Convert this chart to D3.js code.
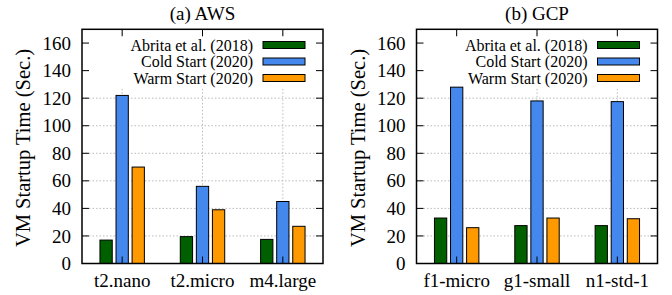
<!DOCTYPE html>
<html><head><meta charset="utf-8">
<script src="https://cdn.jsdelivr.net/npm/d3@7/dist/d3.min.js"></script>
<style>body{margin:0;background:#fff}svg{display:block}svg text{font-family:"Liberation Serif","Times New Roman","DejaVu Serif",serif}</style>
</head><body>
<svg id="c" width="672" height="295"></svg>
<script>
const seriesNames = ["Abrita et al. (2018)", "Cold Start (2020)", "Warm Start (2020)"];
const seriesColors = ["#006000", "#4488ee", "#ff9900"];
const yTicks = [0, 20, 40, 60, 80, 100, 120, 140, 160];
const awsTitle = "(a) AWS";
const awsCategories = ["t2.nano", "t2.micro", "m4.large"];
const awsAbrita = [17, 19.5, 17.5];
const awsCold = [122, 56, 45];
const awsWarm = [70, 39, 27];
const gcpTitle = "(b) GCP";
const gcpCategories = ["f1-micro", "g1-small", "n1-std-1"];
const gcpAbrita = [33, 27.5, 27.5];
const gcpCold = [128, 118, 117.5];
const gcpWarm = [26, 33, 32.5];
const yLabel = "VM Startup Time (Sec.)";

const svg = d3.select("#c");

function panel(x0, title, cats, series) {
  const L = x0, R = x0 + 241, T = 29.3, B = 263.5;
  const g = svg.append("g");
  const x = d3.scaleLinear().domain([-0.5, cats.length - 0.5]).range([L, R]);
  const y = d3.scaleLinear().domain([0, 170]).range([B, T]);
  // grid
  g.selectAll(".hg").data(yTicks.slice(1)).join("line")
    .attr("x1", L).attr("x2", R).attr("y1", d => y(d)).attr("y2", d => y(d))
    .attr("stroke", "#bbb").attr("stroke-width", 1).attr("stroke-dasharray", "1.5,2");
  g.selectAll(".vg").data(cats).join("line")
    .attr("x1", (d, i) => x(i)).attr("x2", (d, i) => x(i)).attr("y1", T).attr("y2", B)
    .attr("stroke", "#bbb").attr("stroke-width", 1).attr("stroke-dasharray", "1.5,2");
  // legend background
  g.append("rect").attr("x", L + 1).attr("y", 36).attr("width", R - L - 2).attr("height", 51).attr("fill", "#fff");
  // bars
  const off = [-0.2, 0, 0.2], bw = 0.153;
  series.forEach((vals, s) => {
    g.selectAll(null).data(vals).join("rect")
      .attr("x", (d, i) => x(i + off[s] - bw / 2))
      .attr("width", x(bw) - x(0))
      .attr("y", d => y(d)).attr("height", d => y(0) - y(d))
      .attr("fill", seriesColors[s]).attr("stroke", "#000").attr("stroke-width", 1);
  });
  // ticks
  const tl = 7;
  yTicks.forEach(t => {
    g.append("line").attr("x1", L).attr("x2", L + tl).attr("y1", y(t)).attr("y2", y(t)).attr("stroke", "#000");
    g.append("line").attr("x1", R).attr("x2", R - tl).attr("y1", y(t)).attr("y2", y(t)).attr("stroke", "#000");
    g.append("text").attr("x", L - 11).attr("y", y(t)).attr("dy", "0.35em").attr("text-anchor", "end")
      .attr("font-size", 19).text(t);
  });
  cats.forEach((c, i) => {
    g.append("line").attr("x1", x(i)).attr("x2", x(i)).attr("y1", T).attr("y2", T + tl).attr("stroke", "#000");
    g.append("line").attr("x1", x(i)).attr("x2", x(i)).attr("y1", B).attr("y2", B - tl).attr("stroke", "#000");
    g.append("text").attr("x", x(i)).attr("y", 287).attr("text-anchor", "middle")
      .attr("font-size", 19).text(c);
  });
  // frame
  g.append("rect").attr("x", L).attr("y", T).attr("width", R - L).attr("height", B - T)
    .attr("fill", "none").attr("stroke", "#000").attr("stroke-width", 1.5);
  // legend
  seriesNames.forEach((n, s) => {
    const cy = 45 + s * 16.5;
    g.append("text").attr("x", R - 70).attr("y", cy).attr("dy", "0.35em").attr("text-anchor", "end")
      .attr("font-size", 16).text(n);
    g.append("rect").attr("x", R - 60).attr("y", cy - 3.5).attr("width", 42).attr("height", 7)
      .attr("fill", seriesColors[s]).attr("stroke", "#000").attr("stroke-width", 1);
  });
  // title
  g.append("text").attr("x", (L + R) / 2).attr("y", 20).attr("text-anchor", "middle")
    .attr("font-size", 19).text(title);
  // y label
  g.append("text").attr("transform", `translate(${L - 59},148) rotate(-90)`)
    .attr("text-anchor", "middle").attr("dy", "0.35em")
    .attr("font-size", 20.5).text(yLabel);
}

panel(82, awsTitle, awsCategories, [awsAbrita, awsCold, awsWarm]);
panel(416.5, gcpTitle, gcpCategories, [gcpAbrita, gcpCold, gcpWarm]);
</script>
</body></html>
